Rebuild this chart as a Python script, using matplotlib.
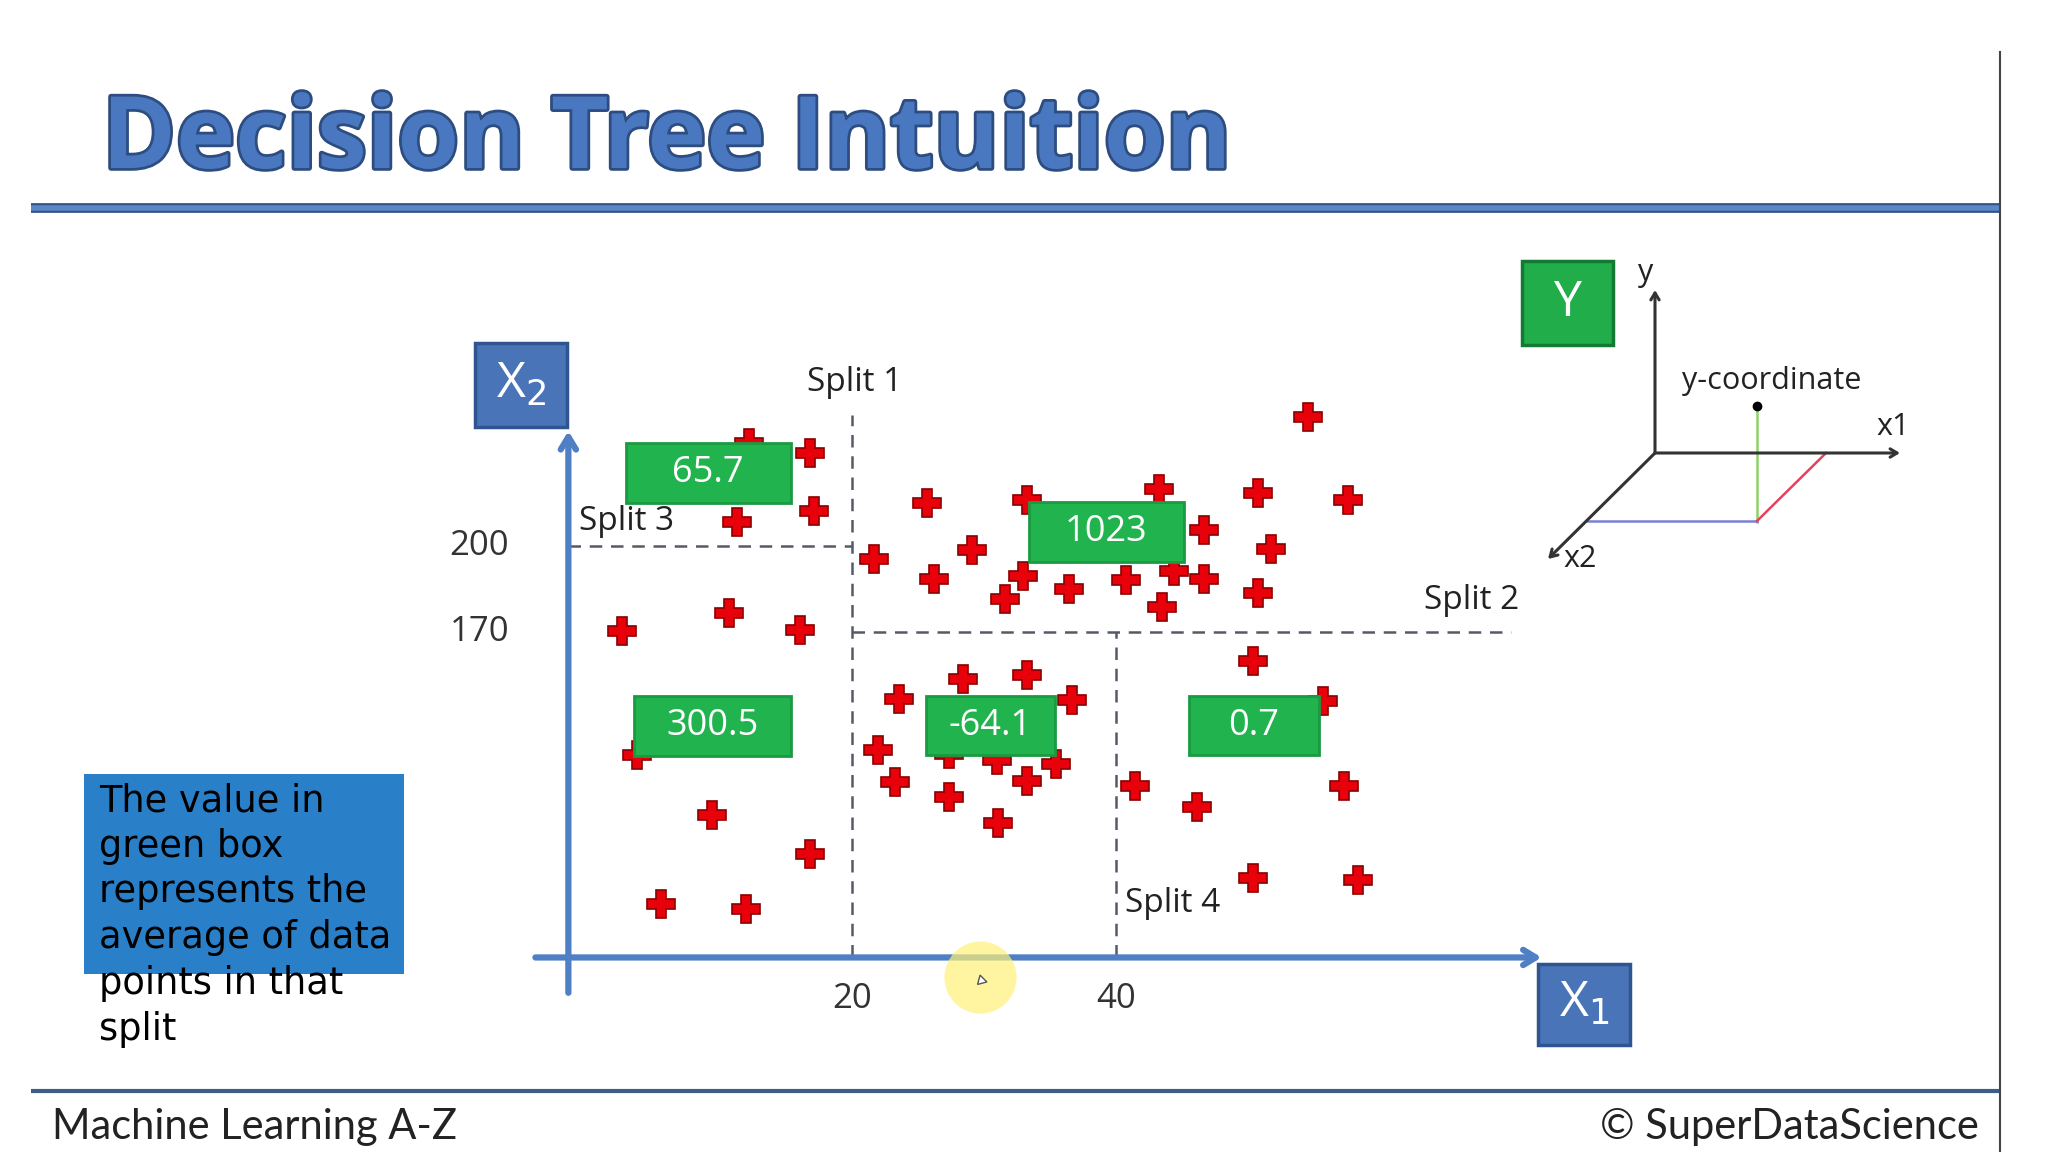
import numpy as np
import matplotlib.pyplot as plt
import matplotlib.patheffects as pe
from matplotlib.patches import Rectangle

# points: X1 (horizontal) and X2 (vertical)
x1 = [12.2, 16.8, 17.1, 11.3,
      2.6, 10.7, 16.1, 3.7, 9.4, 16.8, 5.5, 12.0,
      54.6, 25.7, 33.3, 43.3, 50.8, 57.6, 46.7, 29.1, 21.7, 51.8,
      26.2, 33.0, 36.5, 40.8, 44.4, 46.7, 50.8, 31.6, 43.5,
      28.4, 33.3, 23.6, 36.7, 22.0, 27.4, 31.0, 35.5, 23.3, 33.3, 27.4, 31.1,
      50.4, 55.7, 41.5, 46.2, 57.3, 50.4, 58.4]
x2 = [235.9, 232.3, 212.3, 208.2,
      170.5, 176.8, 170.9, 127.3, 106.4, 92.7, 75.5, 73.6,
      245.0, 215.0, 215.9, 220.0, 218.6, 215.9, 205.5, 198.6, 195.5, 199.1,
      188.6, 189.5, 185.0, 188.2, 191.4, 188.6, 183.6, 181.4, 178.6,
      153.6, 155.0, 146.8, 146.4, 129.1, 127.7, 125.5, 124.1, 117.7, 118.2, 112.7, 103.6,
      160.0, 145.9, 116.4, 109.1, 116.4, 84.5, 83.6]

# split thresholds
split_x1 = [20, 40]      # split 1, split 4
split_x2 = [170, 200]    # split 2, split 3
tick_x1 = [20, 40]
tick_x2 = [200, 170]

# average value shown for each leaf
leaf_values = ["65.7", "1023", "300.5", "-64.1", "0.7"]
leaf_x1 = [9.1, 39.3, 9.4, 30.5, 50.5]
leaf_x2 = [225.5, 204.8, 137.3, 137.5, 137.5]
leaf_w = [12.5, 11.8, 11.9, 9.8, 9.9]

BLUE = "#4f7fc4"
GREEN = "#21b44e"
LABEL_FONT = "Open Sans"


def P(px, py):
    # full-size pixel -> figure fraction
    return px / 2048, 1 - py / 1152


fig = plt.figure(figsize=(20.48, 11.52), dpi=100)
fig.patch.set_facecolor("white")
ax = fig.add_axes([0, 0, 1, 1])
ax.set_xlim(-44.6, 110.7)
ax.set_ylim(-10.9, 390.0)
ax.axis("off")

# --- slide frame ---
ax.plot(*zip(P(31, 208), P(2000, 208)), transform=ax.transAxes, color="#2f5288", lw=7, solid_capstyle="butt")
ax.plot(*zip(P(31, 208), P(2000, 208)), transform=ax.transAxes, color="#5b87c9", lw=4, solid_capstyle="butt")
ax.plot(*zip(P(31, 1091), P(2000, 1091)), transform=ax.transAxes, color="#3e5c8a", lw=3, solid_capstyle="butt")
ax.plot(*zip(P(2000, 52), P(2000, 1152)), transform=ax.transAxes, color="#444444", lw=1.5)

ax.text(*P(102, 168), "Decision Tree Intuition", transform=ax.transAxes, fontsize=72,
        family="Open Sans", weight="bold", color="#4a78c0", va="baseline",
        path_effects=[pe.withStroke(linewidth=4, foreground="#2d4d80")])
ax.text(*P(52, 1139), "Machine Learning A-Z", transform=ax.transAxes, fontsize=30,
        family="Lato", color="#222222", va="baseline")
ax.text(*P(1979, 1139), "\u00a9 SuperDataScience", transform=ax.transAxes, fontsize=30,
        family="Lato", color="#222222", va="baseline", ha="right")

# --- axes arrows ---
x0, y0 = -1.5, 56.8
arrow = dict(arrowstyle="->,head_length=0.9,head_width=0.55", lw=4.5, color=BLUE, shrinkA=0, shrinkB=0)
ax.annotate("", xy=(72.3, y0), xytext=(-4.0, y0), arrowprops=arrow, zorder=2)
ax.annotate("", xy=(x0, 240.0), xytext=(x0, 44.5), arrowprops=arrow, zorder=2)

for (l, b), w, h, txt, fc, ec in [(P(475, 427), 92, 84, "X$_2$", "#4a74b8", "#2f5590"),
                                  (P(1538, 1045), 92, 81, "X$_1$", "#4a74b8", "#2f5590"),
                                  (P(1522, 345), 91, 84, "Y", "#20ad4a", "#137a33")]:
    ax.add_patch(Rectangle((l, b), w / 2048, h / 1152, transform=ax.transAxes,
                           facecolor=fc, edgecolor=ec, lw=2.5, zorder=5))
    ax.text(l + w / 4096, b + h / 2304, txt, transform=ax.transAxes, color="white",
            fontsize=36, family=LABEL_FONT, ha="center", va="center", zorder=6)

# tick labels
for t in tick_x1:
    ax.annotate(str(t), xy=(t, y0), xytext=(0, -30), textcoords="offset points",
                ha="center", va="center", fontsize=25, family=LABEL_FONT, color="#333333")
for t in tick_x2:
    ax.annotate(str(t), xy=(x0, t), xytext=(-64, 0), textcoords="offset points",
                ha="center", va="center", fontsize=25, family=LABEL_FONT, color="#333333")

# --- split lines ---
dash = dict(color="#555b66", lw=1.8, ls=(0, (5, 3.5)), zorder=1)
ax.plot([split_x1[0], split_x1[0]], [y0, 245.5], **dash)
ax.plot([split_x1[0], 70], [split_x2[0], split_x2[0]], **dash)
ax.plot([x0, split_x1[0]], [split_x2[1], split_x2[1]], **dash)
ax.plot([split_x1[1], split_x1[1]], [y0, split_x2[0]], **dash)

lab = dict(fontsize=24, family=LABEL_FONT, color="#222222", ha="center", va="center")
ax.text(20.2, 256.8, "Split 1", **lab)
ax.text(67.0, 180.9, "Split 2", **lab)
ax.text(2.9, 208.6, "Split 3", **lab)
ax.text(44.3, 75.5, "Split 4", **lab)

# --- data points ---
ax.plot(x1, x2, "P", ms=20, color="#e8000b", mec="#8a0000", mew=1.2, zorder=3)

# leaf averages
for v, cx, cy, w in zip(leaf_values, leaf_x1, leaf_x2, leaf_w):
    ax.add_patch(Rectangle((cx - w / 2, cy - 10.4), w, 20.8, facecolor=GREEN,
                           edgecolor="#1b9a42", lw=2, zorder=4))
    ax.text(cx, cy, v, color="white", fontsize=26, family=LABEL_FONT,
            ha="center", va="center", zorder=5)

# cursor highlight
ax.plot([29.7], [50.0], "o", ms=52, color="#fff27a", alpha=0.7, mec="none", zorder=6)
ax.plot([29.8], [49.0], marker=(3, 0, 15), ms=8, color="white", mec="#555555", mew=1, zorder=7)

# --- note box ---
ax.add_patch(Rectangle(P(84, 974), 320 / 2048, 200 / 1152, transform=ax.transAxes,
                       facecolor="#2a80c8", edgecolor="none", zorder=5))
ax.text(*P(99, 782), "The value in\ngreen box\nrepresents the\naverage of data\npoints in that\nsplit",
        transform=ax.transAxes, fontsize=26.5, family="DejaVu Sans", color="black",
        va="top", ha="left", linespacing=1.3, zorder=6)

# --- 3D coordinate sketch ---
def seg(a, b, **kw):
    ax.plot(*zip(P(*a), P(*b)), transform=ax.transAxes, **kw)


small = dict(arrowstyle="->,head_length=0.5,head_width=0.3", lw=2.2, color="#333333", shrinkA=0, shrinkB=0)
origin = (1655, 453)
for end in [(1655, 290), (1900, 453), (1548, 559)]:
    ax.annotate("", xy=P(*end), xytext=P(*origin), xycoords="axes fraction", arrowprops=small)
seg((1757, 406), (1757, 522), color="#8fd16c", lw=1.8)
seg((1587, 521), (1757, 521), color="#7a80d6", lw=1.8)
seg((1757, 521), (1826, 453), color="#e8405c", lw=1.8)
ax.plot(*P(1757, 406), "o", transform=ax.transAxes, color="black", ms=6)
sk = dict(transform=ax.transAxes, fontsize=22, family=LABEL_FONT, color="#222222", ha="center", va="center")
ax.text(*P(1646, 273), "y", **sk)
ax.text(*P(1893, 427), "x1", **sk)
ax.text(*P(1580, 559), "x2", **sk)
ax.text(*P(1772, 381), "y-coordinate", **sk)

fig.savefig("out.png", dpi=100)
